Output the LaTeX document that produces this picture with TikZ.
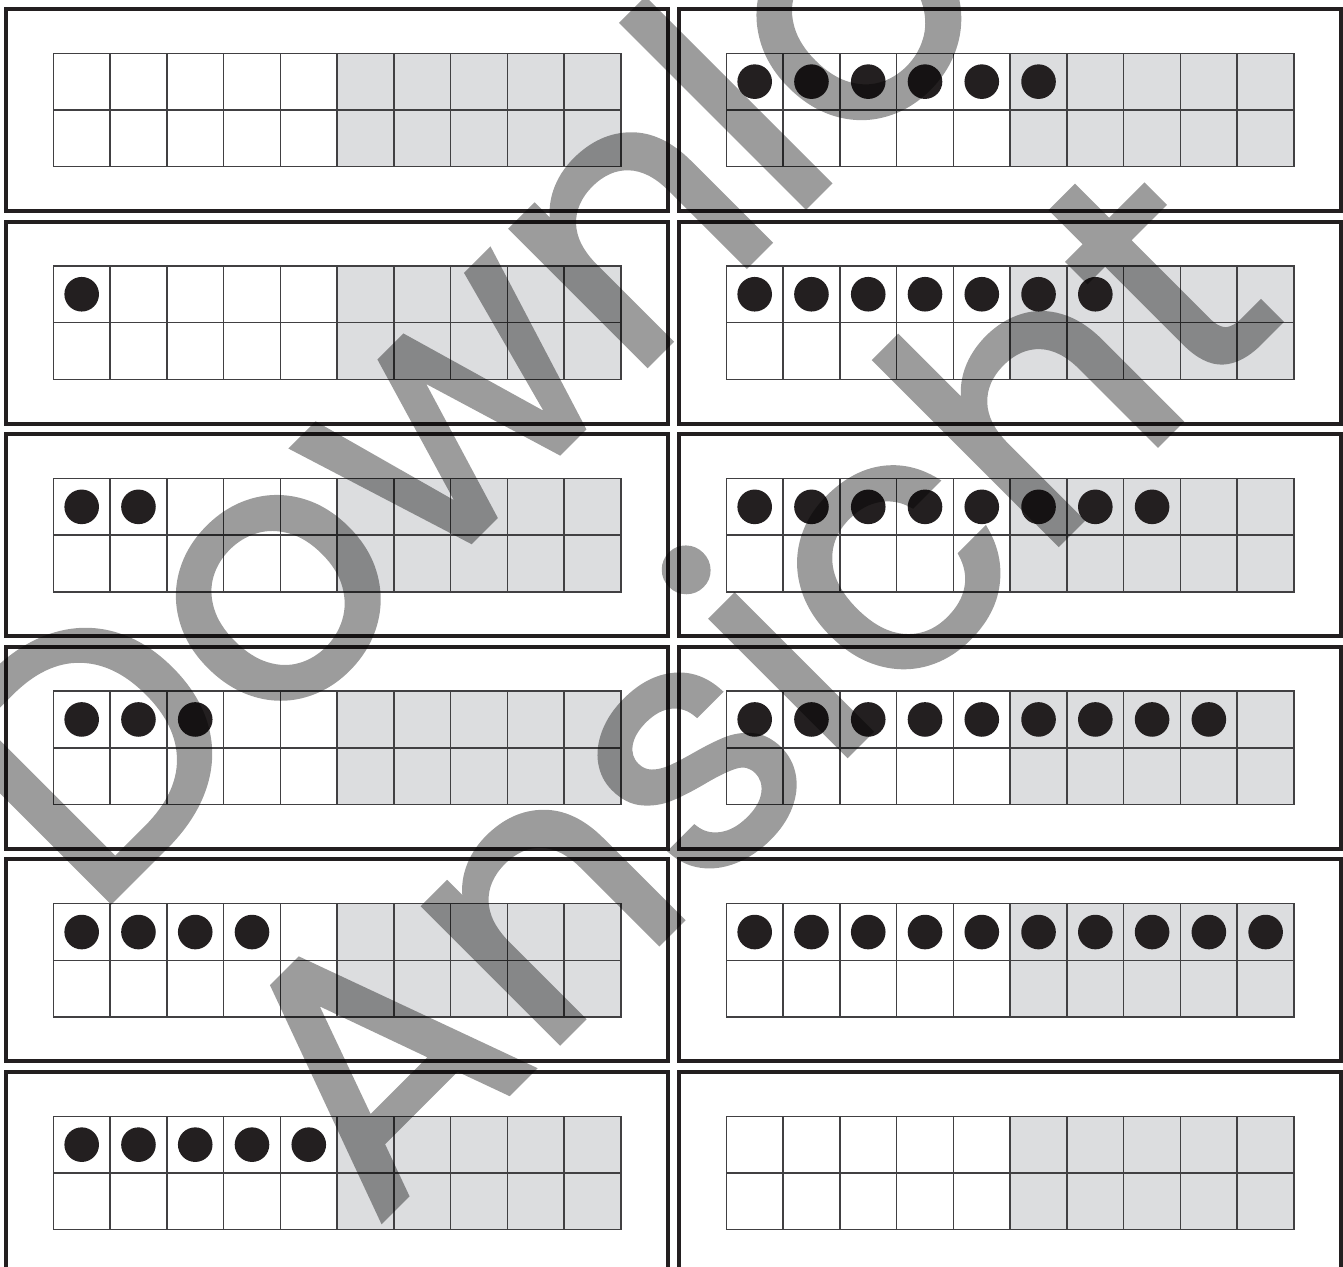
\documentclass[tikz,border=0pt]{standalone}
\usepackage{fontspec}
\newfontfamily\wmfont{Poppins}[FakeBold=1.6]
\definecolor{cardink}{RGB}{35,31,32}
\definecolor{gridink}{RGB}{65,64,66}
\definecolor{cellgray}{RGB}{220,221,223}
\tikzset{
  cardbox/.style={draw=cardink, line width=2pt},
  cellwhite/.style={draw=gridink, line width=0.75pt, fill=white},
  cellshade/.style={draw=gridink, line width=0.75pt, fill=cellgray},
  counter/.style={fill=cardink},
  wmark/.style={rotate=45, anchor=base west, inner sep=0pt, text=black,
    font=\wmfont\fontsize{175}{175}\selectfont}
}
\begin{document}
\begin{tikzpicture}[x=0.5pt,y=-0.5pt]
  \useasboundingbox (0,0) rectangle (1343,1267);
  \clip (0,0) rectangle (1343,1267);
  % twenty-frame cards, column/row/number of counters
  \foreach \col/\row/\nd in {0/0/0,0/1/1,0/2/2,0/3/3,0/4/4,0/5/5,
                             1/0/6,1/1/7,1/2/8,1/3/9,1/4/10,1/5/0} {
    \pgfmathsetmacro{\cx}{6+673*\col}
    \pgfmathsetmacro{\cy}{9+212.6*\row}
    \pgfmathsetmacro{\gx}{\cx+47.3}
    \pgfmathsetmacro{\gy}{\cy+44.3}
    \draw[cardbox] (\cx,\cy) rectangle ++(661.5,202);
    \foreach \i in {0,...,9} {
      \foreach \j in {0,1} {
        \ifnum\i<5
          \draw[cellwhite] (\gx+\i*56.77,\gy+\j*56.7) rectangle ++(56.77,56.7);
        \else
          \draw[cellshade] (\gx+\i*56.77,\gy+\j*56.7) rectangle ++(56.77,56.7);
        \fi
      }
    }
    \ifnum\nd>0
      \foreach \k in {1,...,\nd}
        \fill[counter] (\gx+\k*56.77-28.38,\gy+28.35) circle[radius=17.3];
    \fi
  }
  % watermark
  \begin{scope}[transparency group, opacity=0.39]
    \node[wmark] (wmdownload) at (92,920) {Download};
    \node[wmark] (wmansicht) at (374,1228) {Ansicht};
  \end{scope}
\end{tikzpicture}
\end{document}
